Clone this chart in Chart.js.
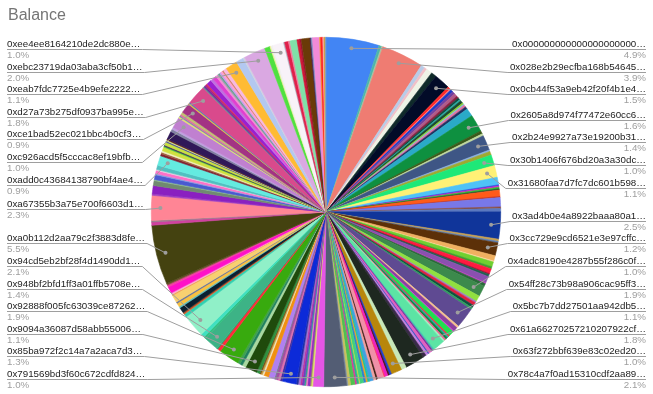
<!DOCTYPE html>
<html><head><meta charset="utf-8">
<script src="https://cdn.jsdelivr.net/npm/chart.js@4"></script>
<style>html,body{margin:0;padding:0;background:#fff}#wrap{width:653px;height:394px;position:relative}</style>
</head><body><div id="wrap"><canvas id="c" width="653" height="394"></canvas></div>
<script>
const chartTitle = "Balance";

// one line per run of slices (a readable slice, or the thin unreadable slices between two readable ones)
const addresses = [
"0x000000000000000000000…",
"","",
"0x028e2b29ecfba168b54645…",
"","","","",
"0x0cb44f53a9eb42f20f4b1e4…",
"","","","","","","","","","","","","","",
"0x2605a8d974f77472e60cc6…",
"","",
"0x2b24e9927a73e19200b31…",
"","",
"0x30b1406f676bd20a3a30dc…",
"0x31680faa7d7fc7dc601b598…",
"","","","","","","","","","",
"0x3ad4b0e4a8922baaa80a1…",
"","",
"0x3cc729e9cd6521e3e97cffc…",
"","","","","","","","","","",
"0x4adc8190e4287b55f286c0f…",
"","","","","",
"0x54ff28c73b98a906cac95ff3…",
"","","","","","","","","",
"0x5bc7b7dd27501aa942db5…",
"","","","","","",
"0x61a66270257210207922cf…",
"",
"0x63f272bbf639e83c02ed20…",
"","","","","","","","","","","","","","","","","","",
"0x78c4a7f0ad15310cdf2aa89…",
"0x791569bd3f60c672cdfd824…",
"","","","","","","","","",
"0x85ba972f2c14a7a2aca7d3…",
"","","","","","","","","","",
"0x9094a36087d58abb55006…",
"","","",
"0x92888f005fc63039ce87262…",
"","",
"0x948bf2bfd1ff3a01ffb5708e…",
"","",
"0x94cd5eb2bf28f4d1490dd1…",
"","","","","","","","","","","","","",
"0xa0b112d2aa79c2f3883d8fe…",
"","",
"0xa67355b3a75e700f6603d1…",
"","","","","","","","","",
"0xadd0c43684138790bf4ae4…",
"","","","","","","","","","","","","",
"0xc926acd5f5cccac8ef19bfb…",
"","","","",
"0xce1bad52ec021bbc4b0cf3…",
"","",
"0xd27a73b275df0937ba995e…",
"","","","","","","","","","","","","","",
"0xeab7fdc7725e4b9efe2222…",
"","",
"0xebc23719da03aba3cf50b1…",
"","","",
"0xee4ee8164210de2dc880e…",
"","","","","","","","","","","","","","",""
];

const balances = [
4.9,
0.25,0.13,
3.9,
0.35,0.25,0.55,0.48,
1.5,
0.25,0.1,0.25,0.25,0.3,0.2,0.2,0.15,0.25,0.15,0.1,0.2,0.24,0.75,
1.6,
0.3,0.2,
1.4,
0.15,0.34,
1.0,
1.1,
0.7,0.1,0.12,0.15,0.1,0.6,0.1,0.85,0.15,0.3,
2.5,
0.2,0.14,
1.2,
0.5,0.1,0.45,0.2,0.45,0.1,0.2,0.6,0.1,0.26,
1.0,
0.55,0.15,0.3,0.25,0.18,
1.9,
0.2,0.4,0.1,0.5,0.12,0.14,0.2,0.15,0.15,
1.1,
0.15,0.15,0.3,0.1,0.22,0.3,
1.8,
0.48,
1.0,
0.2,0.15,0.3,0.1,0.6,0.15,0.25,0.35,0.2,0.15,0.2,0.35,0.1,0.2,0.15,0.4,0.25,0.11,
2.1,
1.0,
0.15,0.1,0.25,0.15,0.15,0.2,0.15,0.2,0.18,
1.3,
0.2,0.2,0.25,0.1,0.55,0.45,0.15,0.15,0.1,0.31,
1.1,
0.35,0.25,0.23,
1.9,
0.3,0.08,
1.4,
0.2,0.33,
2.1,
0.3,0.1,0.1,0.5,0.15,0.35,0.12,0.7,0.1,0.15,0.6,0.2,0.15,
5.5,
0.3,0.14,
2.3,
0.15,0.75,0.45,0.1,0.45,0.1,0.3,0.1,0.38,
0.9,
0.2,0.15,0.15,0.35,0.1,0.1,0.3,0.1,0.1,0.1,0.75,0.25,0.18,
1.0,
0.15,0.1,0.15,0.23,
0.9,
0.12,0.1,
1.8,
0.1,0.15,0.15,0.1,0.45,0.25,0.35,0.2,0.12,0.1,0.15,0.2,0.1,0.32,
1.1,
0.7,0.15,
2.0,
0.5,0.12,0.17,
1.0,
0.1,0.35,0.15,0.65,0.25,0.15,0.8,0.1,0.12,0.65,0.1,0.2,0.1,0.1,0.09
];

const sliceColors = [
"#4285f4",
"#4db6ac","#a8c4a0",
"#ef7c72",
"#b8cce8","#f0c0c8","#eef3e6","#0f2a2a",
"#020b28",
"#ff2a2a","#ff8080","#1a3ac8","#7040a0","#b05a8a","#8a2040","#104a40","#28a8a0","#1a4a30","#8ad030","#80c0e0","#e070a0","#203060","#2aaac8",
"#0e9040",
"#3a5a1a","#c0d8a0",
"#3e5685",
"#8ab0e0","#a0a830",
"#1ee878",
"#fff176",
"#4fc3f7","#3050e0","#e020c0","#30c030","#205030","#ff5a1a","#c03020","#7878e8","#8a4a3a","#5a78c0",
"#10359a",
"#c8a050","#6080b0",
"#5c3008",
"#f0b060","#f8d8a0","#70d030","#40a030","#ff1a40","#a01030","#206050","#8a50b0","#c040c0","#2a6a3a",
"#3c8a4c",
"#90e040","#9a80c0","#e02040","#105040","#30a060",
"#5f4a92",
"#f4c090","#8a40a0","#d040d0","#20e050","#ff2040","#20b0a0","#108040","#f06090","#a0f0c0",
"#5ce4a4",
"#40c0b0","#8030a0","#e060c0","#3050c0","#c080e0","#3a2a4a",
"#1e2820",
"#c8e8b8",
"#b8860b",
"#2040d0","#501020","#f020c0","#ff3060","#f090a8","#3a1a10","#f0a0a0","#40a0e0","#20c0a0","#f0a020","#3080d0","#40d080","#c0e040","#30b090","#e030a0","#50c050","#c8c060","#8090a0",
"#535d74",
"#e555e5",
"#e0e070","#a0a050","#9030c0","#f080c0","#30a090","#7040c0","#c030a0","#a070d0","#2030a0",
"#0c2ad8",
"#4030a0","#e070b0","#a050a0","#707890","#b080f0","#f09010","#f0e0c0","#c0a040","#804010","#309040",
"#1f4a0c",
"#a8d8a0","#208060","#40a050",
"#38aa0e",
"#ff2a3a","#20a060",
"#3db386",
"#30c080","#40e0c0",
"#90f0c8",
"#30d0b0","#e06030","#804020","#0a2030","#60c0c0","#f8c040","#6070a0","#f8d070","#f0a050","#f8b0d0","#ff10c8","#f040a0","#705030",
"#444210",
"#d040a0","#9a7a8a",
"#ff8595",
"#a040c0","#8a20c0","#708a70","#90c090","#4a5ad0","#80a0e0","#ff70c8","#e0d0e0","#50c0c0",
"#64ebe0",
"#802030","#a06040","#f0f0c0","#d0e040","#40c040","#402060","#c8e040","#4040a0","#e0f080","#602020","#301858","#8080a0","#c0a0e0",
"#c080d0",
"#e0e070","#7080b0","#e070a0","#c0c070",
"#a33384",
"#e0c040","#5070c0",
"#d94a8c",
"#609090","#7030a0","#b02080","#e03050","#9a20d0","#c070e0","#e040d0","#f090d0","#90a0b0","#60a080","#c0a0f0","#ffa0d0","#d08060","#f8b8e0",
"#ffbb33",
"#b3c8f0","#d0d0e0",
"#daa8e2",
"#50e040","#f0f0a0","#f0f0f0",
"#f8f2f8",
"#b0b0c0","#e0204a","#f080a0","#80e0a8","#d01838","#a01030","#6a3a08","#402060","#8090c0","#f28ad8","#f0a030","#ff2020","#f8b0c0","#e8a020","#80a0c0"
];

const FONT = "'Liberation Sans', Arial, sans-serif";

function spread(items, S, minY, maxY) {
  items.sort((a, b) => a.ideal - b.ideal);
  const cl = items.map(it => ({ m: [it], start: 0 }));
  const place = c => {
    const n = c.m.length;
    let s = 0;
    c.m.forEach((it, k) => { s += it.ideal - k * S; });
    let st = s / n;
    st = Math.max(minY, Math.min(maxY - (n - 1) * S, st));
    c.start = st;
  };
  cl.forEach(place);
  let merged = true;
  while (merged) {
    merged = false;
    for (let k = 0; k < cl.length - 1; k++) {
      const a = cl[k], b = cl[k + 1];
      if (a.start + a.m.length * S > b.start + 1e-6) {
        a.m = a.m.concat(b.m);
        cl.splice(k + 1, 1);
        place(a);
        merged = true;
        break;
      }
    }
  }
  cl.forEach(c => c.m.forEach((it, k) => { it.u = c.start + k * S; }));
}

const outLabels = {
  id: 'outLabels',
  afterDraw(chart) {
    const ctx = chart.ctx;
    ctx.save();
    ctx.font = "16px " + FONT;
    ctx.fillStyle = "#757575";
    ctx.textAlign = "left";
    ctx.textBaseline = "alphabetic";
    ctx.fillText(chartTitle, 8, 20);

    const meta = chart.getDatasetMeta(0);
    const total = balances.reduce((a, b) => a + b, 0);
    const left = [], right = [];
    meta.data.forEach((arc, i) => {
      if (!addresses[i]) return;
      const p = arc.getProps(['x', 'y', 'startAngle', 'endAngle', 'outerRadius'], true);
      const mid = (p.startAngle + p.endAngle) / 2;
      const r = p.outerRadius * 0.948;
      const dx = p.x + Math.cos(mid) * r, dy = p.y + Math.sin(mid) * r;
      const item = { dx, dy, ideal: dy + 1, text: addresses[i],
        pct: (balances[i] / total * 100).toFixed(1) + '%' };
      (dx < p.x ? left : right).push(item);
    });
    spread(left, 22.6, 49, 379);
    spread(right, 22.6, 49, 379);

    ctx.font = "9.75px " + FONT;
    ctx.lineWidth = 1;
    const lineCol = "#9e9e9e";
    left.forEach(it => {
      const u = Math.round(it.u) + 0.5;
      const tw = ctx.measureText(it.text).width;
      ctx.strokeStyle = lineCol;
      ctx.beginPath();
      ctx.moveTo(7, u);
      ctx.lineTo(7 + tw + 2, u);
      ctx.lineTo(it.dx, it.dy);
      ctx.stroke();
      ctx.textAlign = "left";
      ctx.fillStyle = "#222222";
      ctx.fillText(it.text, 7, u - 3);
      ctx.fillStyle = "#9e9e9e";
      ctx.fillText(it.pct, 7, u + 8);
    });
    right.forEach(it => {
      const u = Math.round(it.u) + 0.5;
      const tw = ctx.measureText(it.text).width;
      ctx.strokeStyle = lineCol;
      ctx.beginPath();
      ctx.moveTo(646, u);
      ctx.lineTo(646 - tw - 2, u);
      ctx.lineTo(it.dx, it.dy);
      ctx.stroke();
      ctx.textAlign = "right";
      ctx.fillStyle = "#222222";
      ctx.fillText(it.text, 646, u - 3);
      ctx.fillStyle = "#9e9e9e";
      ctx.fillText(it.pct, 646, u + 8);
    });
    left.concat(right).forEach(it => {
      ctx.fillStyle = "#9e9e9e";
      ctx.beginPath();
      ctx.arc(it.dx, it.dy, 2, 0, Math.PI * 2);
      ctx.fill();
    });
    ctx.restore();
  }
};

new Chart(document.getElementById('c'), {
  type: 'pie',
  data: {
    labels: addresses,
    datasets: [{
      data: balances,
      backgroundColor: sliceColors,
      borderColor: sliceColors,
      borderWidth: 0.6
    }]
  },
  options: {
    responsive: false,
    devicePixelRatio: 1,
    animation: false,
    events: [],
    layout: { padding: { top: 37, bottom: 7, left: 151, right: 152 } },
    plugins: { legend: { display: false }, tooltip: { enabled: false }, title: { display: false } }
  },
  plugins: [outLabels]
});
</script>
</body></html>
